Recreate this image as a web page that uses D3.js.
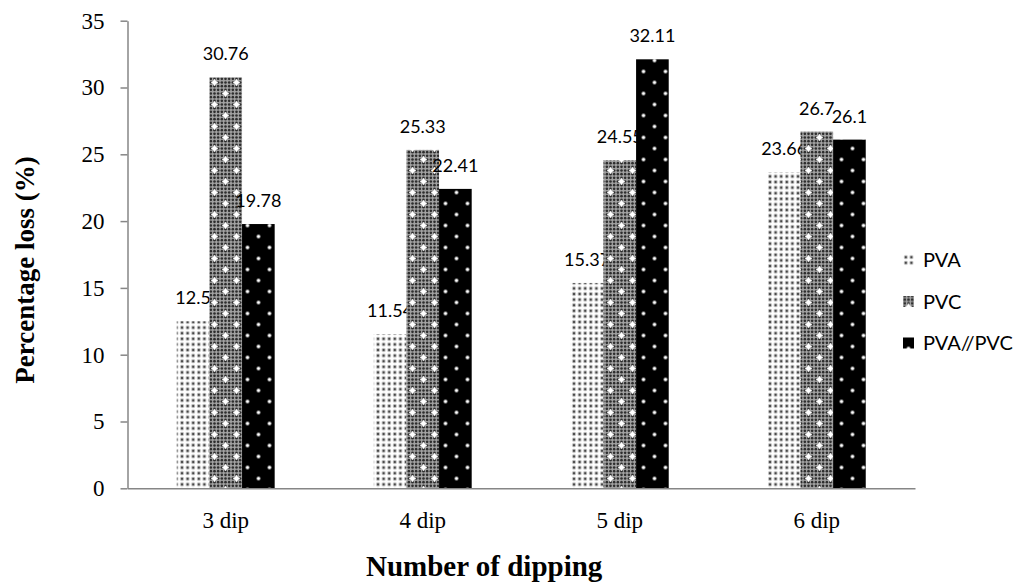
<!DOCTYPE html>
<html>
<head>
<meta charset="utf-8">
<script src="https://cdn.jsdelivr.net/npm/d3@7"></script>
<style>
  body { margin: 0; background: #fff; }
  svg { display: block; }
</style>
</head>
<body>
<svg id="chart"></svg>
<script>
// データ
var categories = ["3 dip", "4 dip", "5 dip", "6 dip"];
var seriesNames = ["PVA", "PVC", "PVA//PVC"];
var pva = [12.5, 11.54, 15.37, 23.66];
var pvc = [30.76, 25.33, 24.55, 26.7];
var pvaPvc = [19.78, 22.41, 32.11, 26.1];
var yTicks = [0, 5, 10, 15, 20, 25, 30, 35];

var seriesValues = [pva, pvc, pvaPvc];
var patternIds = ["patPVA", "patPVC", "patBoth"];

//画面の幅と高さ
var w = 1033;
var h = 584;
var plotLeft = 127.5, plotRight = 915, plotTop = 20.7, plotBottom = 488.3;

var svg = d3.select("#chart").attr("width", w).attr("height", h);
var defs = svg.append("defs");

// PVA: 白地に灰色の点
var p1 = defs.append("pattern").attr("id", "patPVA")
   .attr("patternUnits", "userSpaceOnUse")
   .attr("width", 5.6).attr("height", 5.6);
p1.append("rect").attr("width", 5.6).attr("height", 5.6).attr("fill", "#fff");
p1.append("circle").attr("cx", 2.8).attr("cy", 2.8).attr("r", 2.1).attr("fill", "#bdbdbd");
p1.append("circle").attr("cx", 2.8).attr("cy", 2.8).attr("r", 1.1).attr("fill", "#444");

// PVC: 灰色の網目に白い星
var t = 22, cell = t / 6;
var p2 = defs.append("pattern").attr("id", "patPVC")
   .attr("patternUnits", "userSpaceOnUse")
   .attr("width", t).attr("height", t);
p2.append("rect").attr("width", t).attr("height", t).attr("fill", "#a2a2a2");
d3.range(6).forEach(i => {
   d3.range(6).forEach(j => {
      p2.append("circle")
         .attr("cx", (i + 0.5) * cell).attr("cy", (j + 0.5) * cell)
         .attr("r", 1.3).attr("fill", "#2e2e2e");
   });
});
[[5.5, 5.5], [16.5, 16.5]].forEach(s => {
   p2.append("circle").attr("cx", s[0]).attr("cy", s[1]).attr("r", 2.2).attr("fill", "#fff");
   p2.append("rect").attr("x", s[0] - 3.3).attr("y", s[1] - 0.6).attr("width", 6.6).attr("height", 1.2).attr("fill", "#fff");
   p2.append("rect").attr("x", s[0] - 0.6).attr("y", s[1] - 3.3).attr("width", 1.2).attr("height", 6.6).attr("fill", "#fff");
});

// PVA//PVC: 黒地に白い点
var p3 = defs.append("pattern").attr("id", "patBoth")
   .attr("patternUnits", "userSpaceOnUse")
   .attr("width", t).attr("height", t);
p3.append("rect").attr("width", t).attr("height", t).attr("fill", "#000");
[[5.5, 5.5], [16.5, 16.5]].forEach(s => {
   p3.append("circle").attr("cx", s[0]).attr("cy", s[1]).attr("r", 2.2).attr("fill", "#777");
   p3.append("circle").attr("cx", s[0]).attr("cy", s[1]).attr("r", 1.3).attr("fill", "#fff");
});

var x0 = d3.scaleBand()
   .domain(categories)
   .range([plotLeft, plotRight])
   .paddingInner(0.503)
   .paddingOuter(0.25);

var x1 = d3.scaleBand()
   .domain(seriesNames)
   .range([0, x0.bandwidth()]);

var y = d3.scaleLinear()
   .domain([0, 35])
   .range([plotBottom, plotTop]);

// 軸
var yAxis = svg.append("g")
   .attr("transform", `translate(${plotLeft},0)`)
   .call(d3.axisLeft(y).tickValues(yTicks).tickSize(7).tickSizeOuter(0).tickPadding(16));
yAxis.select(".domain").attr("stroke", "#868686").attr("stroke-width", 1.5);
yAxis.selectAll(".tick line").attr("stroke", "#868686").attr("stroke-width", 1.5);
yAxis.selectAll(".tick text")
   .style("font-family", "'Liberation Serif', 'Times New Roman', serif")
   .style("font-size", "23px")
   .attr("fill", "#000");

// 系列ごとに棒→ラベルの順で描く
seriesNames.forEach((name, si) => {
   var g = svg.append("g");
   var vals = seriesValues[si];
   g.selectAll("rect")
      .data(vals)
      .enter()
      .append("rect")
      .attr("x", (d, i) => x0(categories[i]) + x1(name))
      .attr("y", d => y(d))
      .attr("width", x1.bandwidth())
      .attr("height", d => y(0) - y(d))
      .attr("fill", `url(#${patternIds[si]})`);
   g.selectAll("text")
      .data(vals)
      .enter()
      .append("text")
      .attr("x", (d, i) => x0(categories[i]) + x1(name) + x1.bandwidth() / 2)
      .attr("y", d => y(d) - 17)
      .attr("text-anchor", "middle")
      .style("font-family", "Lato, 'Open Sans', sans-serif")
      .style("font-size", "18px")
      .attr("fill", "#000")
      .text(d => d);
});

var xAxis = svg.append("g")
   .attr("transform", `translate(0,${plotBottom})`)
   .call(d3.axisBottom(x0).tickSize(0).tickSizeOuter(0).tickPadding(23));
xAxis.select(".domain").attr("stroke", "#868686").attr("stroke-width", 1.5);
xAxis.selectAll(".tick text")
   .style("font-family", "'Liberation Serif', 'Times New Roman', serif")
   .style("font-size", "23px")
   .attr("fill", "#000");

// 軸タイトル
svg.append("text")
   .attr("x", 366)
   .attr("y", 576)
   .attr("text-anchor", "start")
   .style("font-family", "'Liberation Serif', 'Times New Roman', serif")
   .style("font-size", "29px")
   .style("font-weight", "bold")
   .text("Number of dipping");

svg.append("text")
   .attr("transform", "translate(34,270) rotate(-90)")
   .attr("text-anchor", "middle")
   .style("font-family", "'Liberation Serif', 'Times New Roman', serif")
   .style("font-size", "27px")
   .style("font-weight", "bold")
   .text("Percentage loss (%)");

// 凡例
var legend = svg.append("g")
   .selectAll("g")
   .data(seriesNames)
   .enter()
   .append("g")
   .attr("transform", (d, i) => `translate(903,${260 + i * 41.5})`);
legend.append("rect")
   .attr("x", 0).attr("y", -5.5)
   .attr("width", 11).attr("height", 11)
   .attr("fill", (d, i) => `url(#${patternIds[i]})`);
legend.append("text")
   .attr("x", 20).attr("y", 7)
   .style("font-family", "Lato, 'Open Sans', sans-serif")
   .style("font-size", "20px")
   .attr("fill", "#000")
   .text(d => d);
</script>
</body>
</html>
